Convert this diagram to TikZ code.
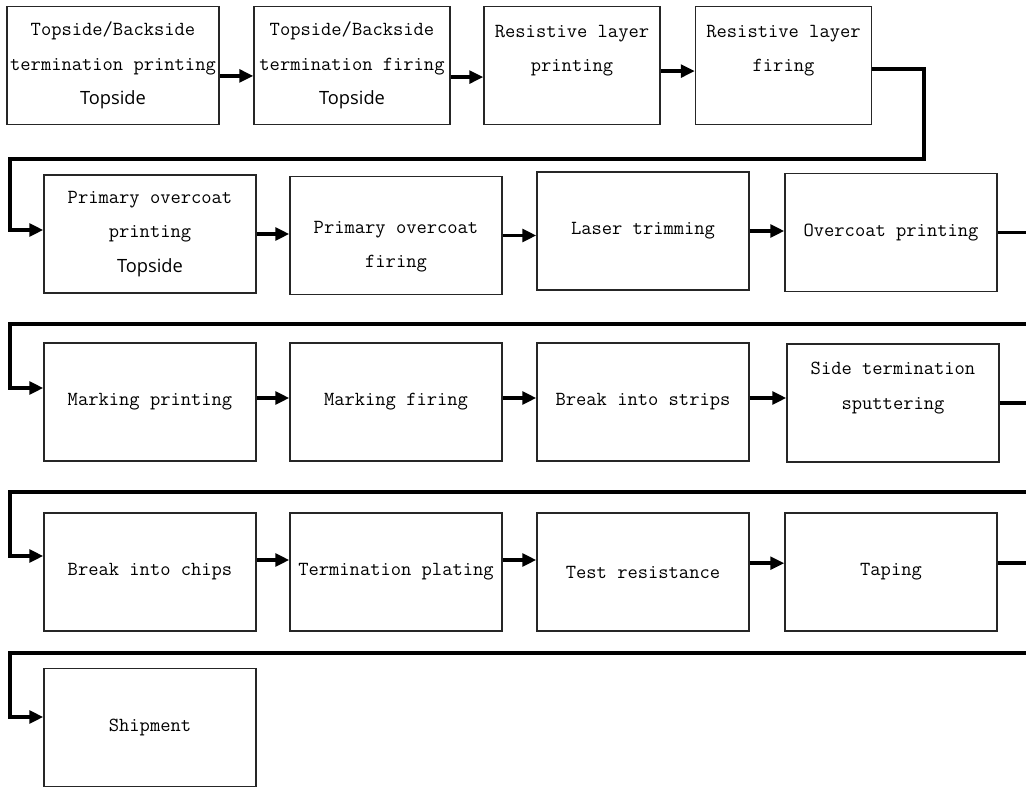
\documentclass[tikz,border=0pt]{standalone}
\usepackage{fontspec}
\setsansfont{Open Sans}
\usetikzlibrary{arrows.meta}

\tikzset{
	stepbox/.style={draw=black!85, line width=0.9pt, minimum width=5.3cm,
		minimum height=2.95cm, inner sep=0pt, align=center,
		font=\ttfamily\fontsize{14.2}{24.5}\selectfont},
	flow/.style={->, line width=2.8pt, >={Triangle[length=10pt,width=9pt]}}
}
\newcommand{\topsd}{\\{\sffamily\fontsize{13}{24.5}\selectfont Topside}}

\begin{document}
\begin{tikzpicture}[x=0.025cm,y=-0.025cm]
	\useasboundingbox (0,0) rectangle (1026,787);
	% first row
	\node[stepbox] (tbp) at (113,65.5) {Topside/Backside\\termination printing\topsd};
	\node[stepbox, minimum width=4.9cm] (tbf) at (352,65.5) {Topside/Backside\\termination firing\topsd};
	\node[stepbox, minimum width=4.4cm] (rlp) at (572,65.5) {Resistive layer\\printing\\\mbox{}};
	\node[stepbox, minimum width=4.4cm] (rlf) at (783.5,65.5) {Resistive layer\\firing\\\mbox{}};
	% second row
	\node[stepbox] (pop) at (150,234) {Primary overcoat\\printing\topsd};
	\node[stepbox] (pof) at (396,235.5) {\mbox{}\\Primary overcoat\\firing};
	\node[stepbox] (lst) at (643,231) {Laser trimming};
	\node[stepbox] (ovp) at (891,232.5) {Overcoat printing};
	% third row
	\node[stepbox] (mkp) at (150,402) {Marking printing};
	\node[stepbox] (mkf) at (396,402) {Marking firing};
	\node[stepbox] (bis) at (643,402) {Break into strips};
	\node[stepbox] (sts) at (893,403) {Side termination\\sputtering\\\mbox{}};
	% fourth row
	\node[stepbox] (bic) at (150,572) {Break into chips};
	\node[stepbox] (tpl) at (396,572) {Termination plating};
	\node[stepbox] (trs) at (643,572) {Test resistance};
	\node[stepbox] (tap) at (891,572) {Taping};
	% last row
	\node[stepbox] (shp) at (150,727.5) {Shipment};
	%
	\coordinate (c1) at (924,159);
	\coordinate (d1) at (10,230);
	\coordinate (c2) at (1040,324);
	\coordinate (d2) at (10,388);
	\coordinate (c3) at (1040,492);
	\coordinate (d3) at (10,556);
	\coordinate (c4) at (1040,653);
	\coordinate (d4) at (10,717);
	%
	\path[flow]
	% row arrows
	([yshift=-0.26cm]tbp.east) edge ([yshift=-0.26cm]tbf.west)
	([yshift=-0.29cm]tbf.east) edge ([yshift=-0.29cm]rlp.west)
	([yshift=-0.14cm]rlp.east) edge ([yshift=-0.14cm]rlf.west)
	(pop.east) edge (pop.east -| pof.west)
	(pof.east) edge (pof.east -| lst.west)
	(lst.east) edge (lst.east -| ovp.west)
	([yshift=0.1cm]mkp.east) edge ([yshift=0.1cm]mkf.west)
	([yshift=0.1cm]mkf.east) edge ([yshift=0.1cm]bis.west)
	([yshift=0.1cm]bis.east) edge ([yshift=0.1cm]bis.east -| sts.west)
	([yshift=0.3cm]bic.east) edge ([yshift=0.3cm]tpl.west)
	([yshift=0.3cm]tpl.east) edge ([yshift=0.3cm]trs.west)
	([yshift=0.22cm]trs.east) edge ([yshift=0.22cm]tap.west);
	% return lines
	\draw[flow] ([yshift=-0.09cm]rlf.east) -| (c1) -| (d1) -- (d1 -| pop.west);
	\draw[flow] (ovp.east) -| (c2) -| (d2) -- (d2 -| mkp.west);
	\draw[flow] (sts.east) -| (c3) -| (d3) -- (d3 -| bic.west);
	\draw[flow] ([yshift=0.22cm]tap.east) -| (c4) -| (d4) -- (d4 -| shp.west);
\end{tikzpicture}
\end{document}
